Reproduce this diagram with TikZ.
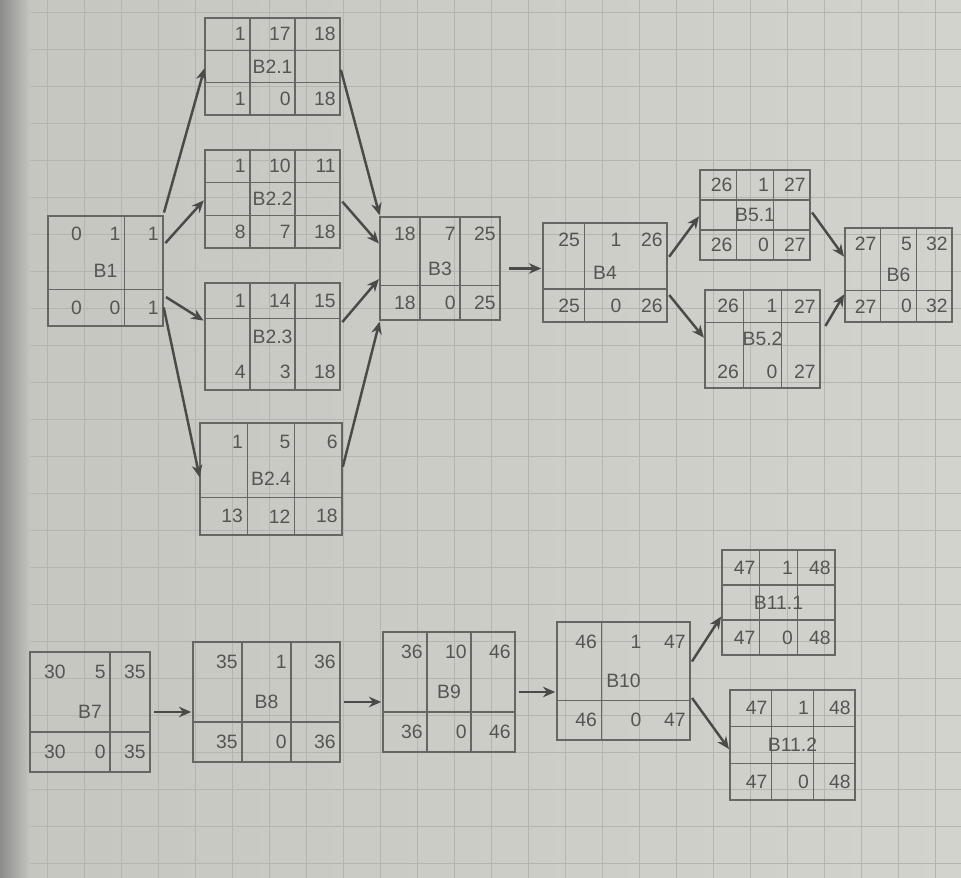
\documentclass[tikz,border=0pt]{standalone}
\usepackage{fontspec}
\setmainfont{Liberation Sans}
\usetikzlibrary{arrows.meta,calc}
\definecolor{paper}{HTML}{C5C6BF}
\definecolor{paperlight}{HTML}{D2D3CD}
\definecolor{gridc}{HTML}{B4B5AE}
\definecolor{boxc}{HTML}{666762}
\definecolor{txtc}{HTML}{555652}
\definecolor{arrc}{HTML}{4A4B47}
\tikzset{
  actst/.style={draw=boxc, line width=0.9pt, inner sep=0pt, outer sep=0pt, rectangle},
  cellst/.style={draw=boxc, line width=0.9pt},
  numst/.style={text=txtc, font=\fontsize{11}{13}\selectfont, inner sep=0pt},
  gridst/.style={draw=gridc, line width=0.5pt},
  arr/.style={draw=arrc, line width=1.4pt, -{Stealth[length=7pt,width=6pt]}, shorten >=1pt, shorten <=2pt}
}
% [options]{name}{x1}{y1}{x2}{y2}{label}{top}{bottom}
\newcommand{\actbox}[9][]{%
  \begingroup\def\hl{1,2}\def\vl{1,2}#1%
  \node[actst, minimum width={(#5-#3)*0.02cm}, minimum height={(#6-#4)*0.02cm}] (#2) at ({(#3+#5)/2},{(#4+#6)/2}) {};
  \foreach \k in \vl {\draw[cellst] ({#3+(#5-#3)*\k/3},#4) -- ({#3+(#5-#3)*\k/3},#6);}
  \foreach \k in \hl {\draw[cellst] (#3,{#4+(#6-#4)*\k/3}) -- (#5,{#4+(#6-#4)*\k/3});}
  \node[numst] at ({(#3+#5)/2},{(#4+#6)/2}) {#7};
  \foreach \v [count=\i] in {#8} {\node[numst, anchor=east] at ({#3+(#5-#3)*\i/3-4},{#4+(#6-#4)/6}) {\v};}
  \foreach \v [count=\i] in {#9} {\node[numst, anchor=east] at ({#3+(#5-#3)*\i/3-4},{#4+(#6-#4)*5/6}) {\v};}
  \endgroup}
\begin{document}
\begin{tikzpicture}[x=0.02cm, y=-0.02cm]
\useasboundingbox (0,0) rectangle (961,878);
\shade[left color=paper, right color=paperlight] (0,0) rectangle (961,878);
\foreach \gx in {10,47,...,961} {\draw[gridst] (\gx,0) -- (\gx,878);}
\foreach \gy in {12,49,...,878} {\draw[gridst] (0,\gy) -- (961,\gy);}
\shade[left color=black!45, right color=paper] (0,0) rectangle (30,878);

% upper network
\actbox[\def\hl{2}\def\vl{2}]{B1}{48}{216}{163}{326}{B1}{0,1,1}{0,0,1}
\actbox{B21}{205}{18}{340}{115}{B2.1}{1,17,18}{1,0,18}
\actbox{B22}{205}{150}{340}{248}{B2.2}{1,10,11}{8,7,18}
\actbox[\def\hl{1}]{B23}{205}{283}{340}{390}{B2.3}{1,14,15}{4,3,18}
\actbox[\def\hl{2}]{B24}{200}{423}{342}{535}{B2.4}{1,5,6}{13,12,18}
\actbox[\def\hl{2}]{B3}{380}{217}{500}{320}{B3}{18,7,25}{18,0,25}
\actbox[\def\hl{2}\def\vl{1}]{B4}{543}{223}{667}{322}{B4}{25,1,26}{25,0,26}
\actbox{B51}{700}{170}{810}{260}{B5.1}{26,1,27}{26,0,27}
\actbox[\def\hl{1}]{B52}{705}{290}{820}{388}{B5.2}{26,1,27}{26,0,27}
\actbox[\def\hl{2}]{B6}{845}{228}{952}{322}{B6}{27,5,32}{27,0,32}

% lower network
\actbox[\def\hl{2}\def\vl{2}]{B7}{30}{652}{150}{772}{B7}{30,5,35}{30,0,35}
\actbox[\def\hl{2}]{B8}{193}{642}{340}{762}{B8}{35,1,36}{35,0,36}
\actbox[\def\hl{2}]{B9}{383}{632}{515}{752}{B9}{36,10,46}{36,0,46}
\actbox[\def\hl{2}\def\vl{1}]{B10}{557}{622}{690}{740}{B10}{46,1,47}{46,0,47}
\actbox{B111}{722}{550}{835}{655}{B11.1}{47,1,48}{47,0,48}
\actbox{B112}{730}{690}{855}{800}{B11.2}{47,1,48}{47,0,48}

% connectors
\draw[arr] (B1.north east) -- (B21.west);
\draw[arr] ($(B1.north east)!0.27!(B1.south east)$) -- (B22.west);
\draw[arr] ($(B1.north east)!0.72!(B1.south east)$) -- ($(B23.north west)!0.36!(B23.south west)$);
\draw[arr] ($(B1.north east)!0.8!(B1.south east)$) -- (B24.west);
\draw[arr] (B21.east) -- (B3.north west);
\draw[arr] (B22.east) -- ($(B3.north west)!0.27!(B3.south west)$);
\draw[arr] ($(B23.north east)!0.39!(B23.south east)$) -- ($(B3.north west)!0.59!(B3.south west)$);
\draw[arr] ($(B24.north east)!0.42!(B24.south east)$) -- (B3.south west);
\draw[arr, shorten <=5pt] (B3.east) -- (B3.east -| B4.west);
\draw[arr] ($(B4.north east)!0.37!(B4.south east)$) -- (B51.west);
\draw[arr] ($(B4.north east)!0.7!(B4.south east)$) -- (B52.west);
\draw[arr] ($(B51.north east)!0.44!(B51.south east)$) -- ($(B6.north west)!0.32!(B6.south west)$);
\draw[arr, shorten <=6pt] ($(B52.north east)!0.46!(B52.south east)$) -- ($(B6.north west)!0.69!(B6.south west)$);
\draw[arr] (B7.east) -- (B7.east -| B8.west);
\draw[arr] (B8.east) -- (B8.east -| B9.west);
\draw[arr] (B9.east) -- (B9.east -| B10.west);
\draw[arr] ($(B10.north east)!0.36!(B10.south east)$) -- ($(B111.north west)!0.62!(B111.south west)$);
\draw[arr] ($(B10.north east)!0.62!(B10.south east)$) -- ($(B112.north west)!0.55!(B112.south west)$);
\end{tikzpicture}
\end{document}
